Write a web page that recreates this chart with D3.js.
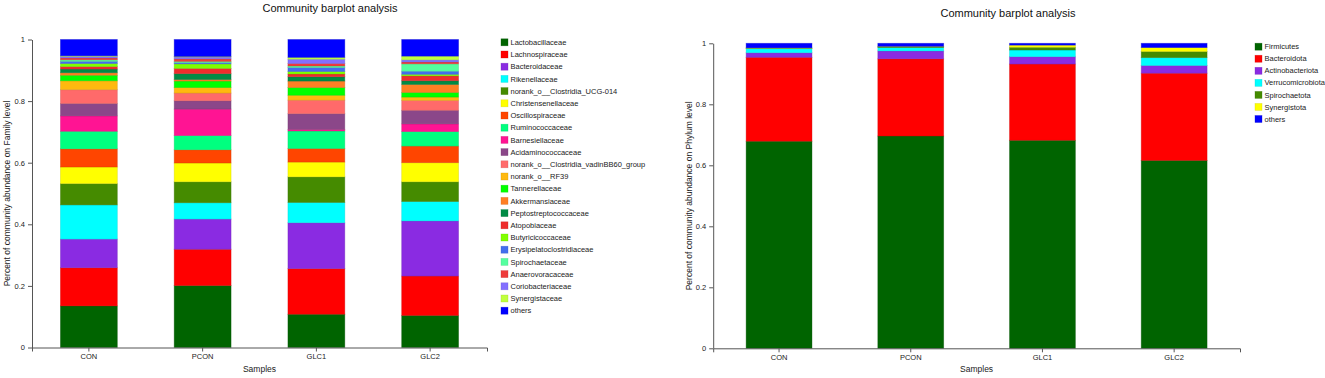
<!DOCTYPE html>
<html>
<head>
<meta charset="utf-8">
<script src="https://cdn.jsdelivr.net/npm/d3@7"></script>
<style>
  body { margin: 0; background: #fff; }
  svg { display: block; font-family: Arial, "Liberation Sans", sans-serif; }
  .axis path, .axis line { stroke: #555; }
  .axis text { fill: #222; font-size: 7.5px; }
  .legend text { font-size: 7.5px; fill: #222; }
</style>
</head>
<body>
<svg id="chart" width="1325" height="378"></svg>
<script>
// samples on the x axis
var samples = ['CON', 'PCON', 'GLC1', 'GLC2'];
var yTicks = [0, 0.2, 0.4, 0.6, 0.8, 1];

// family level
var familyNames = [
  'Lactobacillaceae', 'Lachnospiraceae', 'Bacteroidaceae', 'Rikenellaceae',
  'norank_o__Clostridia_UCG-014', 'Christensenellaceae', 'Oscillospiraceae',
  'Ruminococcaceae', 'Barnesiellaceae', 'Acidaminococcaceae',
  'norank_o__Clostridia_vadinBB60_group', 'norank_o__RF39', 'Tannerellaceae',
  'Akkermansiaceae', 'Peptostreptococcaceae', 'Atopobiaceae', 'Butyricicoccaceae',
  'Erysipelatoclostridiaceae', 'Spirochaetaceae', 'Anaerovoracaceae',
  'Coriobacteriaceae', 'Synergistaceae', 'others'
];
var familyColors = [
  '#006400', '#ff0000', '#8a2be2', '#00ffff', '#458b00', '#ffff00', '#ff4500',
  '#00ff7f', '#ff1493', '#8b4789', '#ff6a6a', '#ffb90f', '#00ff00', '#ff7f24',
  '#008b45', '#ee2c2c', '#7fff00', '#436eee', '#54ff9f', '#ee3b3b', '#836fff',
  '#c0ff3e', '#0000ff'
];
var familyCON  = [0.135, 0.124, 0.093, 0.111, 0.069, 0.054, 0.059, 0.057, 0.050, 0.040, 0.045, 0.029,
                  0.018, 0.008, 0.012, 0.008, 0.010, 0.007, 0.005, 0.006, 0.005, 0.002, 0.053];
var familyPCON = [0.201, 0.118, 0.098, 0.053, 0.068, 0.061, 0.043, 0.046, 0.086, 0.027, 0.025, 0.018,
                  0.021, 0.005, 0.019, 0.017, 0.015, 0.004, 0.004, 0.008, 0.006, 0.002, 0.055];
var familyGLC1 = [0.108, 0.148, 0.149, 0.066, 0.083, 0.048, 0.044, 0.057, 0.005, 0.051, 0.044, 0.016,
                  0.025, 0.021, 0.014, 0.009, 0.008, 0.013, 0.005, 0.008, 0.014, 0.006, 0.058];
var familyGLC2 = [0.104, 0.128, 0.179, 0.063, 0.064, 0.062, 0.054, 0.047, 0.025, 0.044, 0.032, 0.011,
                  0.015, 0.026, 0.012, 0.016, 0.005, 0.010, 0.024, 0.006, 0.007, 0.012, 0.054];

// phylum level
var phylumNames = ['Firmicutes', 'Bacteroidota', 'Actinobacteriota', 'Verrucomicrobiota',
                   'Spirochaetota', 'Synergistota', 'others'];
var phylumColors = ['#006400', '#ff0000', '#8a2be2', '#00ffff', '#458b00', '#ffff00', '#0000ff'];
var phylumCON  = [0.679, 0.275, 0.015, 0.014, 0.001, 0.001, 0.015];
var phylumPCON = [0.696, 0.253, 0.026, 0.011, 0.003, 0.001, 0.010];
var phylumGLC1 = [0.682, 0.250, 0.024, 0.022, 0.009, 0.007, 0.006];
var phylumGLC2 = [0.616, 0.286, 0.025, 0.026, 0.020, 0.013, 0.014];

var svg = d3.select('#chart');

function drawPanel(p) {
  // build rows for d3.stack
  var rows = samples.map(function(s, i) {
    var row = { sample: s };
    p.names.forEach(function(n, j) { row[n] = p.values[i][j]; });
    return row;
  });
  var series = d3.stack().keys(p.names)(rows);

  var x = d3.scaleBand().domain(samples).range(p.xRange)
    .paddingInner(0.5).paddingOuter(0.25);
  var y = d3.scaleLinear().domain([0, 1]).range(p.yRange);
  var color = d3.scaleOrdinal().domain(p.names).range(p.colors);

  var g = svg.append('g');

  g.selectAll('g.layer')
    .data(series).enter().append('g')
      .attr('class', 'layer')
      .attr('fill', function(d) { return color(d.key); })
      .attr('stroke', function(d) { return d3.color(color(d.key)).darker(0.6); })
      .attr('stroke-opacity', 0.45)
      .attr('stroke-width', 0.8)
    .selectAll('rect')
    .data(function(d) { return d; }).enter().append('rect')
      .attr('x', function(d) { return x(d.data.sample); })
      .attr('width', x.bandwidth())
      .attr('y', function(d) { return y(d[1]); })
      .attr('height', function(d) { return y(d[0]) - y(d[1]); });

  g.append('g')
    .attr('class', 'axis')
    .attr('transform', 'translate(0,' + p.yRange[0] + ')')
    .call(d3.axisBottom(x).tickSizeInner(4).tickSizeOuter(4).tickPadding(2));

  g.append('g')
    .attr('class', 'axis')
    .attr('transform', 'translate(' + p.xRange[0] + ',0)')
    .call(d3.axisLeft(y).tickValues(yTicks).tickFormat(d3.format('~g'))
      .tickSizeInner(4).tickSizeOuter(0).tickPadding(3));

  g.append('text')
    .attr('x', p.titleX).attr('y', p.titleY)
    .attr('text-anchor', 'middle')
    .style('font-size', '11px').style('fill', '#111')
    .text('Community barplot analysis');

  g.append('text')
    .attr('x', (p.xRange[0] + p.xRange[1]) / 2).attr('y', 372)
    .attr('text-anchor', 'middle')
    .style('font-size', '8.5px').style('fill', '#222')
    .text('Samples');

  g.append('text')
    .attr('transform', 'translate(' + p.yLabelX + ',' + ((p.yRange[0] + p.yRange[1]) / 2) + ') rotate(-90)')
    .attr('text-anchor', 'middle')
    .attr('dy', '0.35em')
    .style('font-size', '8.5px').style('fill', '#222')
    .text(p.yLabel);

  var legend = g.append('g').attr('class', 'legend')
    .selectAll('g').data(p.names).enter().append('g')
      .attr('transform', function(d, i) {
        return 'translate(' + p.legendX + ',' + (p.legendY + i * p.legendStep) + ')';
      });
  legend.append('rect')
    .attr('x', 0).attr('y', -3.5).attr('width', 7).attr('height', 7)
    .attr('fill', function(d) { return color(d); })
    .attr('stroke', function(d) { return d3.color(color(d)).darker(0.6); })
    .attr('stroke-opacity', 0.5).attr('stroke-width', 0.6);
  legend.append('text')
    .attr('x', 9.5).attr('dy', '0.35em')
    .text(function(d) { return d; });
}

drawPanel({
  names: familyNames,
  colors: familyColors,
  values: [familyCON, familyPCON, familyGLC1, familyGLC2],
  xRange: [32, 487],
  yRange: [347.5, 39.5],
  titleX: 330, titleY: 12,
  yLabelX: 7,
  yLabel: 'Percent of community abundance on Family level',
  legendX: 501, legendY: 42.3, legendStep: 12.2
});

drawPanel({
  names: phylumNames,
  colors: phylumColors,
  values: [phylumCON, phylumPCON, phylumGLC1, phylumGLC2],
  xRange: [713.2, 1240],
  yRange: [348.3, 43.3],
  titleX: 1008, titleY: 16.5,
  yLabelX: 689,
  yLabel: 'Percent of community abundance on Phylum level',
  legendX: 1255, legendY: 46.7, legendStep: 12.05
});
</script>
</body>
</html>
